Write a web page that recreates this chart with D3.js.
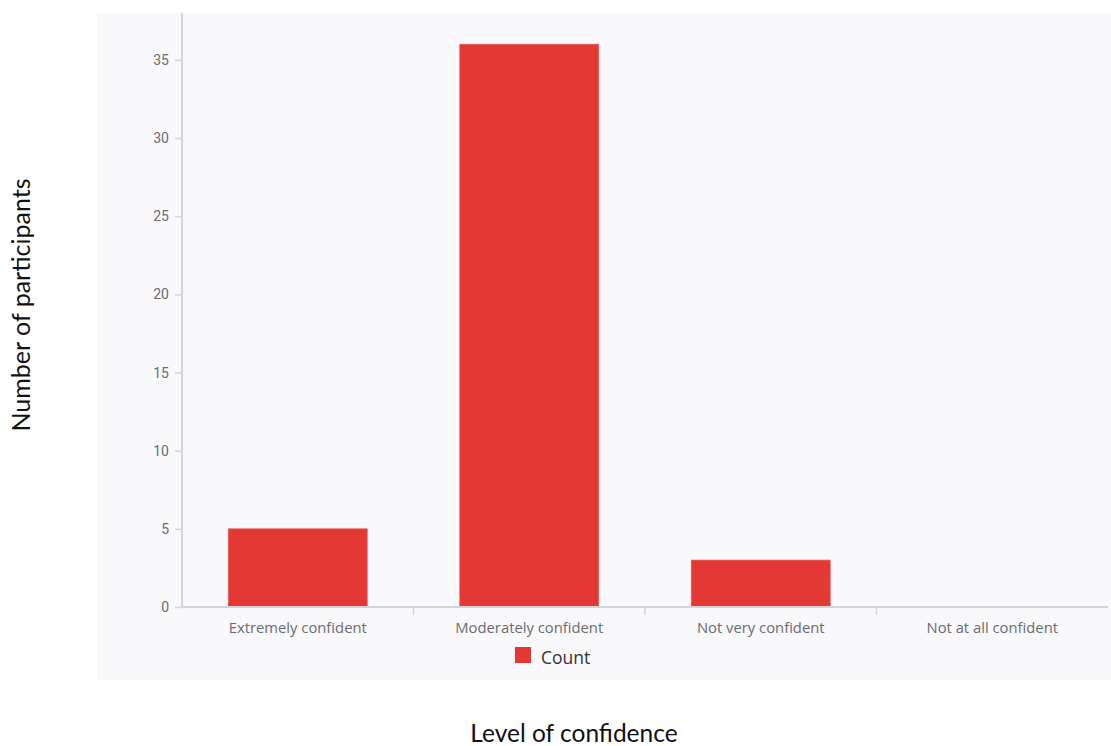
<!DOCTYPE html>
<html>
<head>
<meta charset="utf-8">
<script src="https://cdn.jsdelivr.net/npm/d3@7"></script>
<style>
  html, body { margin: 0; padding: 0; background: #ffffff; }
  svg { display: block; }
</style>
</head>
<body>
<svg id="chart" width="1111" height="746"></svg>
<script>
// Survey responses: how confident participants felt
const categories = ["Extremely confident", "Moderately confident", "Not very confident", "Not at all confident"];
const counts = [5, 36, 3, 0];
const yTicks = [0, 5, 10, 15, 20, 25, 30, 35];
const seriesName = "Count";

const svg = d3.select("#chart");
const W = 1111, H = 746;

// Plot panel background
svg.append("rect")
  .attr("x", 97).attr("y", 13)
  .attr("width", W - 97).attr("height", 667)
  .attr("fill", "#f9f9fb");

const plot = { left: 182, right: 1108, top: 13, bottom: 607 };

const x = d3.scaleBand()
  .domain(categories)
  .range([plot.left, plot.right])
  .paddingInner(0.4)
  .paddingOuter(0.2);

const y = d3.scaleLinear()
  .domain([0, 38])
  .range([plot.bottom, plot.top]);

const axisColor = "#d4d4d8";
const tickText = "#6b6b70";

// Bars
svg.append("g").selectAll("rect")
  .data(counts)
  .join("rect")
  .attr("x", (d, i) => x(categories[i]))
  .attr("y", d => y(d))
  .attr("width", x.bandwidth())
  .attr("height", d => y(0) - y(d))
  .attr("fill", "#e43834")
  .attr("stroke", "#ea5a57")
  .attr("stroke-width", 0.8);

// Y axis
const yAxis = svg.append("g")
  .attr("transform", `translate(${plot.left},0)`)
  .call(d3.axisLeft(y).tickValues(yTicks).tickSize(7).tickPadding(6));
yAxis.select(".domain").remove();
yAxis.selectAll(".tick line").attr("stroke", axisColor).attr("stroke-width", 1.5);
yAxis.selectAll(".tick text")
  .attr("fill", tickText)
  .style("font-family", "Roboto, 'Open Sans', sans-serif")
  .style("font-size", "14px");
svg.append("line")
  .attr("x1", plot.left).attr("x2", plot.left)
  .attr("y1", plot.top).attr("y2", plot.bottom)
  .attr("stroke", axisColor).attr("stroke-width", 2);

// X axis with ticks at band boundaries
const xAxis = svg.append("g")
  .attr("transform", `translate(0,${plot.bottom})`)
  .call(d3.axisBottom(x).tickSize(0).tickPadding(15));
xAxis.select(".domain").remove();
xAxis.selectAll(".tick text")
  .attr("fill", tickText)
  .style("font-family", "'Open Sans', sans-serif")
  .style("font-size", "14.8px");
svg.append("line")
  .attr("x1", plot.left).attr("x2", plot.right)
  .attr("y1", plot.bottom).attr("y2", plot.bottom)
  .attr("stroke", axisColor).attr("stroke-width", 2);
const step = x.step();
svg.append("g").selectAll("line")
  .data(categories.slice(1))
  .join("line")
  .attr("x1", d => x(d) - step * x.paddingInner() / 2)
  .attr("x2", d => x(d) - step * x.paddingInner() / 2)
  .attr("y1", plot.bottom)
  .attr("y2", plot.bottom + 8)
  .attr("stroke", axisColor).attr("stroke-width", 1.5);

// Legend
const legend = svg.append("g").attr("transform", "translate(515,647)");
legend.append("rect").attr("width", 16).attr("height", 16).attr("fill", "#e43834");
legend.append("text")
  .attr("x", 26).attr("y", 16.5)
  .attr("fill", "#333")
  .style("font-family", "'Open Sans', sans-serif")
  .style("font-size", "17.5px")
  .text(seriesName);

// Axis titles
svg.append("text")
  .attr("transform", "translate(30,305) rotate(-90)")
  .attr("text-anchor", "middle")
  .attr("fill", "#111")
  .style("font-family", "Lato, 'Open Sans', sans-serif")
  .style("font-size", "25px")
  .text("Number of participants");

svg.append("text")
  .attr("x", 574).attr("y", 742)
  .attr("text-anchor", "middle")
  .attr("fill", "#111")
  .style("font-family", "Lato, 'Open Sans', sans-serif")
  .style("font-size", "24.5px")
  .text("Level of confidence");
</script>
</body>
</html>
